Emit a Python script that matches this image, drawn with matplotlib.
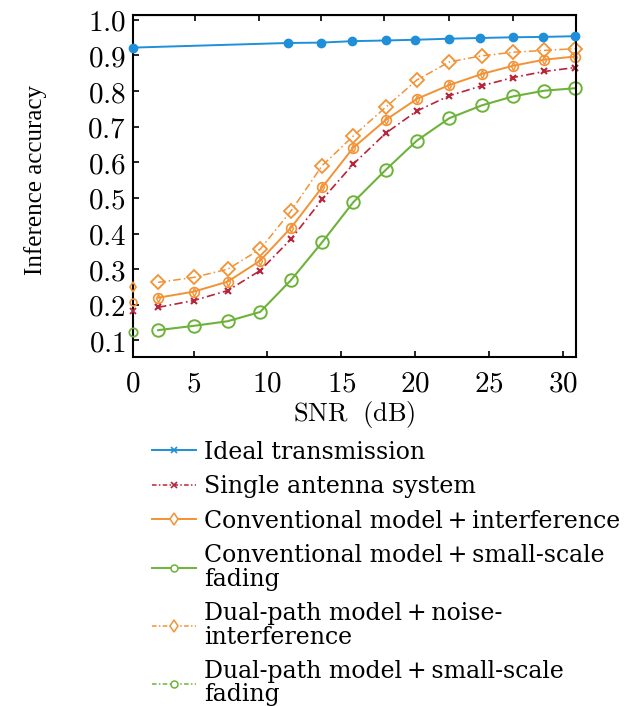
import matplotlib
matplotlib.use("Agg")
import matplotlib.pyplot as plt
from matplotlib.lines import Line2D
from matplotlib.ticker import FixedLocator, FixedFormatter

plt.rcParams['mathtext.fontset'] = 'cm'

# ---- data ----
snr = [2.6, 5.0, 7.3, 9.5, 11.6, 13.7, 15.8, 18.0, 20.1, 22.3, 24.5, 26.6, 28.7, 30.8]
ideal_snr = [0.9, 11.4, 13.6, 15.7, 18.0, 20.0, 22.3, 24.4, 26.6, 28.6, 30.8]
ideal_acc = [0.922, 0.935, 0.936, 0.940, 0.942, 0.944, 0.947, 0.949, 0.951, 0.952, 0.954]
single_acc = [0.193, 0.212, 0.240, 0.296, 0.385, 0.496, 0.595, 0.682, 0.744, 0.787, 0.815, 0.838, 0.855, 0.866]
conv_interf_acc = [0.220, 0.237, 0.265, 0.324, 0.417, 0.530, 0.641, 0.719, 0.778, 0.817, 0.848, 0.871, 0.888, 0.897]
conv_fading_acc = [0.129, 0.141, 0.154, 0.180, 0.270, 0.376, 0.488, 0.579, 0.661, 0.724, 0.760, 0.785, 0.801, 0.808]
dual_noise_acc = [0.263, 0.277, 0.300, 0.356, 0.464, 0.591, 0.674, 0.755, 0.831, 0.882, 0.899, 0.909, 0.914, 0.919]
# isolated points at the start of the axis
start_snr = 0.9
start_single = 0.183
start_conv_interf = 0.208
start_conv_fading = 0.124
start_dual_noise = 0.251

xtick_vals = [0.9, 5, 10, 15, 20, 25, 30]
xtick_labels = ['0', '5', '10', '15', '20', '25', '30']
ytick_vals = [0.1, 0.2, 0.3, 0.4, 0.5, 0.6, 0.7, 0.8, 0.9, 1.0]
ytick_labels = ['0.1', '0.2', '0.3', '0.4', '0.5', '0.6', '0.7', '0.8', '0.9', '1.0']
top_ticks = [5.1, 9.4, 13.6, 17.9, 22.3, 26.6]

PLUS = '\u2009+\u2009'
labels = ['Ideal transmission',
          'Single antenna system',
          'Conventional model' + PLUS + 'interference',
          'Conventional model' + PLUS + 'small-scale\nfading',
          'Dual-path model' + PLUS + 'noise-\ninterference',
          'Dual-path model' + PLUS + 'small-scale\nfading']

BLUE = '#1e8fd8'
RED = '#b8243a'
ORANGE = '#f39235'
GREEN = '#6db33a'

fig = plt.figure(figsize=(6.3, 7.06), dpi=100)
ax = fig.add_axes([0.211, 0.494, 0.703, 0.485])

dd = (5, 2, 1, 2)

ax.plot(ideal_snr, ideal_acc, color=BLUE, lw=1.4, marker='o', ms=6, mfc=BLUE, mec=BLUE, clip_on=False, zorder=5)
ax.plot(snr, dual_noise_acc, color=ORANGE, lw=1.1, dashes=dd, marker='D', ms=7.5, mfc='none', mec=ORANGE, mew=1.3, clip_on=False)
ax.plot(snr, conv_interf_acc, color=ORANGE, lw=1.4, marker='o', ms=7, mfc='none', mec=ORANGE, mew=1.2, clip_on=False)
ax.plot(snr, conv_interf_acc, ls='none', marker='d', ms=4, mfc='none', mec=ORANGE, mew=1.0, clip_on=False)
ax.plot(snr, single_acc, color=RED, lw=1.2, dashes=dd, marker='x', ms=5, mec=RED, mew=1.5, clip_on=False)
ax.plot(snr, conv_fading_acc, color=GREEN, lw=1.5, marker='o', ms=9, mfc='none', mec=GREEN, mew=1.4, clip_on=False)

ax.plot([start_snr], [start_dual_noise], ls='none', marker='d', ms=5, mfc='none', mec=ORANGE, mew=1.2, clip_on=False, zorder=6)
ax.plot([start_snr], [start_conv_interf], ls='none', marker='o', ms=5, mfc='none', mec=ORANGE, mew=1.2, clip_on=False, zorder=6)
ax.plot([start_snr], [start_single], ls='none', marker='x', ms=4, mec=RED, mew=1.3, clip_on=False, zorder=6)
ax.plot([start_snr], [start_conv_fading], ls='none', marker='o', ms=6, mfc='none', mec=GREEN, mew=1.3, clip_on=False, zorder=6)

ax.set_xlim(0.9, 30.85)
ax.set_ylim(0.053, 1.014)
ax.xaxis.set_major_locator(FixedLocator(xtick_vals))
ax.xaxis.set_major_formatter(FixedFormatter(['$%s$' % s for s in xtick_labels]))
ax.yaxis.set_major_locator(FixedLocator(ytick_vals))
ax.yaxis.set_major_formatter(FixedFormatter(['$%s$' % s for s in ytick_labels]))
ax.tick_params(direction='in', length=4, width=1.2, labelsize=21)
ax.tick_params(axis='y', pad=5)
ax.tick_params(axis='x', pad=9)
for s in ax.spines.values():
    s.set_linewidth(1.5)

sec = ax.secondary_xaxis('top')
sec.set_xticks(top_ticks)
sec.set_xticklabels([])
sec.tick_params(direction='in', length=4, width=1.2)

ax.set_xlabel(r'$\mathrm{SNR\ \ (dB)}$', fontsize=19, labelpad=1)
ax.set_ylabel('Inference accuracy', fontsize=18, family='Liberation Serif')
ax.yaxis.set_label_coords(-0.194, 0.518)

hd = (3, 1.5, 1, 1.5)
handles = [
    Line2D([], [], color=BLUE, lw=1.4, marker='x', ms=4, mew=1.2),
    Line2D([], [], color=RED, lw=1.1, dashes=hd, marker='x', ms=4, mew=1.2),
    Line2D([], [], color=ORANGE, lw=1.4, marker='d', ms=6, mfc='white', mew=1.1),
    Line2D([], [], color=GREEN, lw=1.4, marker='o', ms=5, mfc='white', mew=1.1),
    Line2D([], [], color=ORANGE, lw=1.1, dashes=hd, marker='d', ms=6, mfc='white', mew=1.1),
    Line2D([], [], color=GREEN, lw=1.1, dashes=hd, marker='o', ms=5, mfc='white', mew=1.1),
]
leg = fig.legend(handles, labels, loc='upper left', bbox_to_anchor=(0.241, 0.376),
                 frameon=False, prop={'family': 'DejaVu Serif', 'size': 17},
                 handlelength=1.85, handletextpad=0.35, labelspacing=0.49,
                 borderaxespad=0, borderpad=0)
for t in leg.get_texts():
    t.set_linespacing(1.02)

fig.savefig('out.png', dpi=100)
